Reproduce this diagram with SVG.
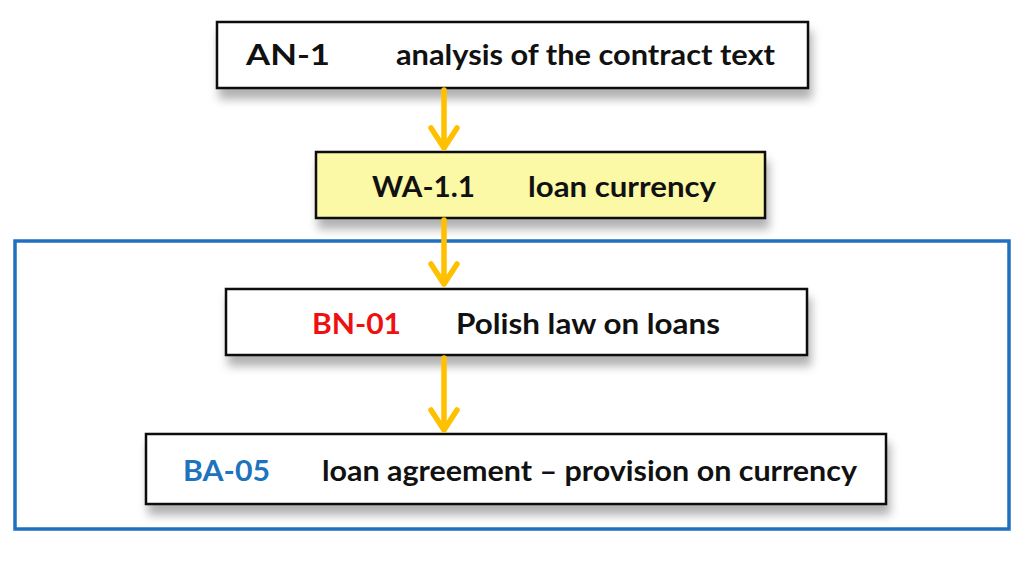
<svg xmlns="http://www.w3.org/2000/svg" width="1024" height="576" viewBox="0 0 1024 576">
<style>
.box{fill:#fff;stroke:#111;stroke-width:2.5}
.t{font-family:Lato,"Liberation Sans",sans-serif;font-weight:bold;font-size:29px;fill:#111}
.conn{stroke:#FFC000;stroke-width:5.5;fill:none;stroke-linecap:round;stroke-linejoin:round}
</style>
<defs>
<filter id="sh" x="-10%" y="-30%" width="120%" height="180%">
<feDropShadow dx="3" dy="10" stdDeviation="5" flood-color="#000" flood-opacity="0.3"/>
</filter>
</defs>
<rect width="1024" height="576" fill="#fff"/>
<rect id="group-frame" x="15" y="241" width="994" height="288" fill="none" stroke="#1F70C1" stroke-width="3.5"/>
<g id="an1">
<rect class="box" x="217" y="22" width="591" height="66" filter="url(#sh)"/>
<text class="t" x="246" y="65" textLength="84" lengthAdjust="spacingAndGlyphs">AN-1</text>
<text class="t" x="396" y="65" textLength="379" lengthAdjust="spacingAndGlyphs">analysis of the contract text</text>
</g>
<g id="wa11">
<rect class="box" x="316" y="152" width="449" height="66" style="fill:#FBF8A6" filter="url(#sh)"/>
<text class="t" x="372" y="197" textLength="103" lengthAdjust="spacingAndGlyphs">WA-1.1</text>
<text class="t" x="528" y="197" textLength="188" lengthAdjust="spacingAndGlyphs">loan currency</text>
</g>
<g id="bn01">
<rect class="box" x="226" y="289" width="581" height="66" filter="url(#sh)"/>
<text class="t" x="312" y="334" textLength="89" lengthAdjust="spacingAndGlyphs" style="fill:#EE1111">BN-01</text>
<text class="t" x="456" y="334" textLength="264" lengthAdjust="spacingAndGlyphs">Polish law on loans</text>
</g>
<g id="ba05">
<rect class="box" x="146" y="434" width="740" height="70" filter="url(#sh)"/>
<text class="t" x="183" y="481" textLength="87" lengthAdjust="spacingAndGlyphs" style="fill:#1E73BE">BA-05</text>
<text class="t" x="322" y="481" textLength="535" lengthAdjust="spacingAndGlyphs">loan agreement – provision on currency</text>
</g>
<g id="connectors">
<path class="conn" d="M444 90 V148 M431 128 L444 148 L457 128"/>
<path class="conn" d="M444 220 V284 M431 264 L444 284 L457 264"/>
<path class="conn" d="M444 358 V430 M431 410 L444 430 L457 410"/>
</g>
</svg>
